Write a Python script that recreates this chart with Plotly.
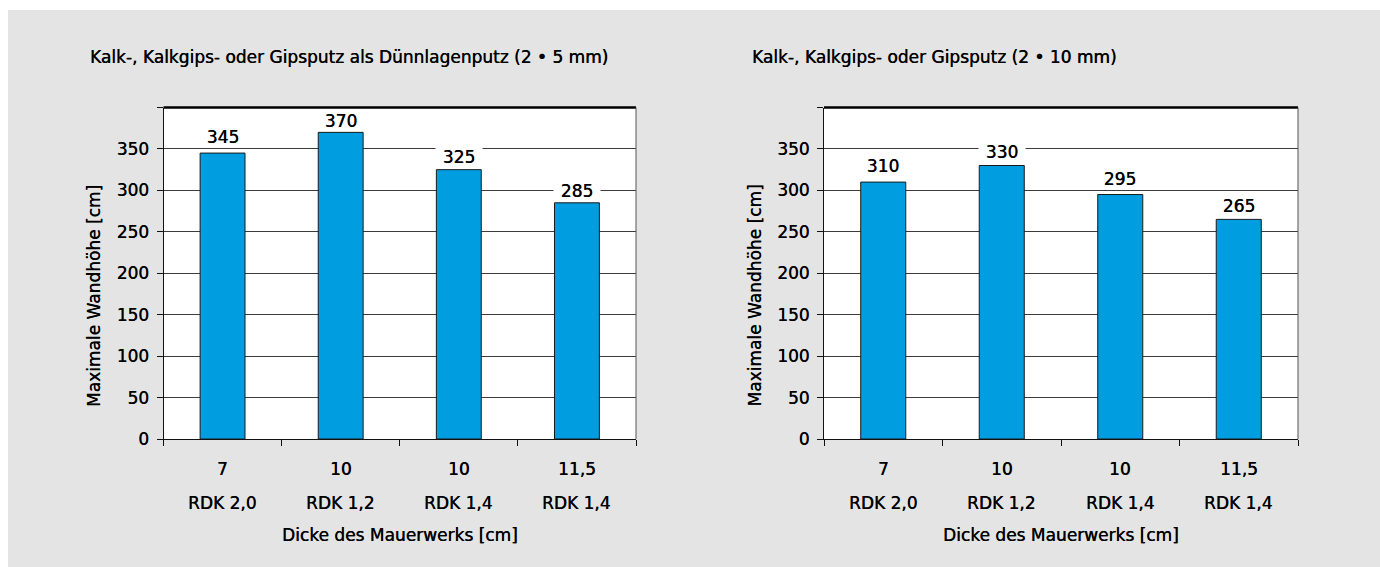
import plotly.graph_objects as go

# ---- data ----
thickness = ["7", "10", "10", "11,5"]
rdk = ["RDK 2,0", "RDK 1,2", "RDK 1,4", "RDK 1,4"]
heights_thin = [345, 370, 325, 285]   # Dünnlagenputz 2 x 5 mm
heights_std = [310, 330, 295, 265]    # Putz 2 x 10 mm
title_left = "Kalk-, Kalkgips- oder Gipsputz als Dünnlagenputz (2 • 5 mm)"
title_right = "Kalk-, Kalkgips- oder Gipsputz (2 • 10 mm)"
y_title = "Maximale Wandhöhe [cm]"
x_title = "Dicke des Mauerwerks [cm]"
y_ticks = [0, 50, 100, 150, 200, 250, 300, 350, 400]
y_ticktext = ["0", "50", "100", "150", "200", "250", "300", "350", ""]

cats = [f"{t} {r}" for t, r in zip(thickness, rdk)]

W, H = 1380, 567
FONT = "DejaVu Sans"
FS = 17
TXT = "#000"
SHADOW = "0.35px 0 0 #000"
BAR = "#009ee0"
GRID = "#3c3c3c"
BG = "#e3e4e3"

def px_x(v):
    return v / W

def px_y(v):
    return 1 - v / H

def fnt():
    return dict(family=FONT, size=FS, color=TXT, shadow=SHADOW)

fig = go.Figure()

# label pixel offsets above bar tops (styling, as placed in the original)
panels = [
    dict(vals=heights_thin, title=title_left, x0=163.5, x1=636, xa="x", ya="y",
         lab_off=[16, 11, 13, 12]),
    dict(vals=heights_std, title=title_right, x0=824, x1=1298, xa="x2", ya="y2",
         lab_off=[16, 14, 16, 13.5]),
]
plot_top, plot_bot = 107.5, 439

annotations = []
shapes = []
for i, p in enumerate(panels):
    fig.add_trace(go.Bar(
        x=cats, y=p["vals"], xaxis=p["xa"], yaxis=p["ya"],
        marker=dict(color=BAR, line=dict(color="#1a1a1a", width=1)),
        width=0.38, showlegend=False, hoverinfo="x+y",
    ))
    suffix = "" if i == 0 else "2"
    xd = dict(
        domain=[px_x(p["x0"]), px_x(p["x1"])],
        anchor="y" + suffix, type="category",
        categoryorder="array", categoryarray=cats,
        range=[-0.5, 3.5], automargin=False,
        showline=True, linecolor="#111", linewidth=1,
        ticks="outside", tickson="boundaries", ticklen=6, tickcolor="#111",
        showticklabels=False, showgrid=False, zeroline=False,
        fixedrange=True,
    )
    yd = dict(
        domain=[px_y(plot_bot), px_y(plot_top)],
        anchor="x" + suffix, range=[0, 400], automargin=False,
        tickvals=y_ticks, ticktext=y_ticktext,
        showline=True, linecolor="#111", linewidth=1,
        ticks="outside", ticklen=6, tickcolor="#111",
        showgrid=True, gridcolor=GRID, gridwidth=1,
        zeroline=False,
        tickfont=fnt(),
        ticklabelstandoff=4,
        fixedrange=True,
    )
    fig.update_layout(**{"xaxis" + suffix: xd, "yaxis" + suffix: yd})

    # thick top border and thin grey right border
    shapes.append(dict(type="line", xref=p["xa"] + " domain", yref=p["ya"] + " domain",
                       x0=0, x1=1, y0=1, y1=1, line=dict(color="#000", width=2.5)))
    shapes.append(dict(type="line", xref=p["xa"] + " domain", yref=p["ya"] + " domain",
                       x0=1, x1=1, y0=0, y1=1, line=dict(color="#555", width=1)))

    # value labels on white boxes
    for c, v, off in zip(cats, p["vals"], p["lab_off"]):
        annotations.append(dict(
            x=c, y=v, xref=p["xa"], yref=p["ya"], text=str(v), showarrow=False,
            yanchor="middle", yshift=off, bgcolor="white", borderpad=0,
            width=46, height=18, font=fnt(),
        ))
    # category labels (two rows)
    for c, t, r in zip(cats, thickness, rdk):
        annotations.append(dict(
            x=c, y=px_y(468.5), xref=p["xa"], yref="paper", text=t, showarrow=False,
            yanchor="middle", font=fnt(),
        ))
        annotations.append(dict(
            x=c, y=px_y(502.5), xref=p["xa"], yref="paper", text=r, showarrow=False,
            yanchor="middle", font=fnt(),
        ))
    # axis titles
    annotations.append(dict(
        x=(p["x0"] + p["x1"]) / 2 / W, y=px_y(535), xref="paper", yref="paper",
        text=x_title, showarrow=False, yanchor="middle", xanchor="center",
        font=fnt(),
    ))
    annotations.append(dict(
        x=px_x(p["x0"] - 69.5), y=px_y(296), xref="paper", yref="paper",
        text=y_title, showarrow=False, textangle=-90,
        xanchor="center", yanchor="middle", font=fnt(),
    ))
    # panel title
    annotations.append(dict(
        x=px_x(88 if i == 0 else 750), y=px_y(57), xref="paper", yref="paper",
        text=p["title"], showarrow=False, xanchor="left", yanchor="middle",
        font=fnt(),
    ))

# white border strips (left and top) around the grey panel
shapes.append(dict(type="rect", xref="paper", yref="paper", x0=0, x1=px_x(8), y0=0, y1=1,
                   fillcolor="white", line=dict(width=0), layer="below"))
shapes.append(dict(type="rect", xref="paper", yref="paper", x0=0, x1=1, y0=px_y(10), y1=1,
                   fillcolor="white", line=dict(width=0), layer="below"))

fig.update_layout(
    template="none",
    width=W, height=H, autosize=False, margin=dict(l=0, r=0, t=0, b=0, pad=0),
    paper_bgcolor=BG, plot_bgcolor="white",
    font=dict(family=FONT, size=FS, color=TXT),
    annotations=annotations, shapes=shapes,
    showlegend=False,
)

fig.write_html("out.html", config={"displayModeBar": False},
               post_script="document.body.style.margin='0';document.body.style.overflow='hidden';")
